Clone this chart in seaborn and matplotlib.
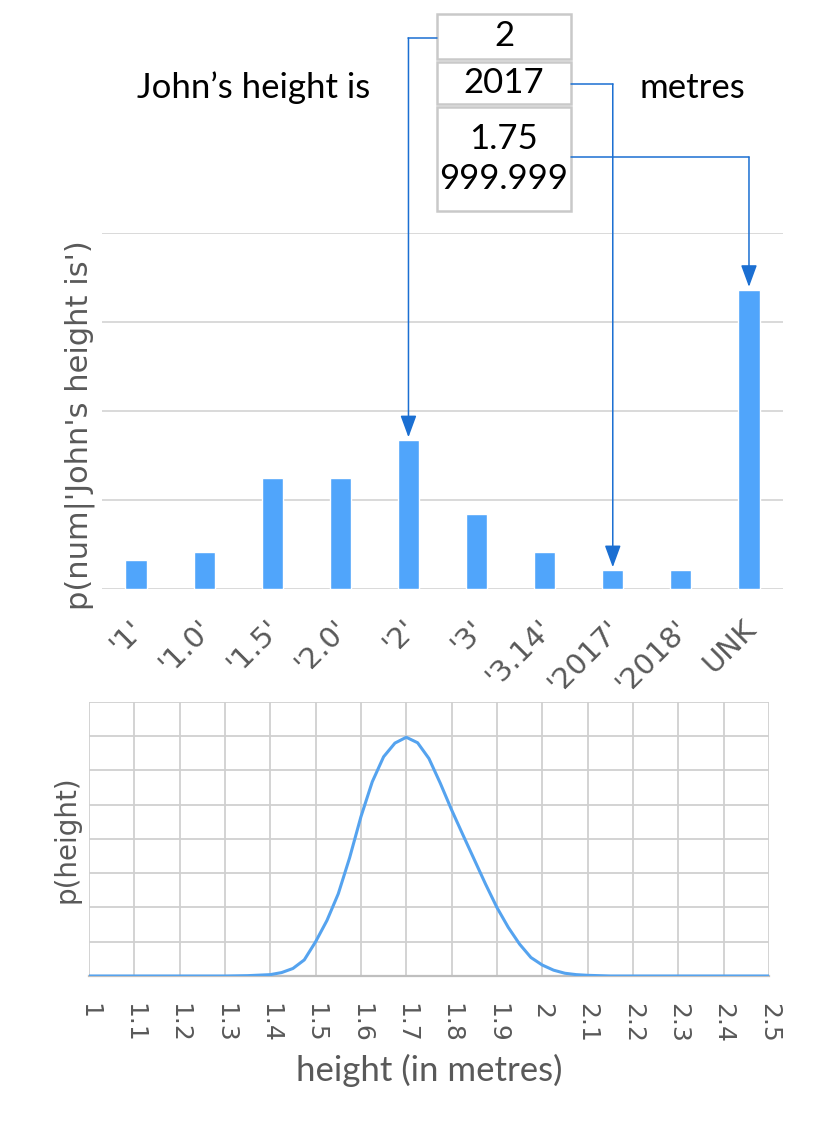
import numpy as np
import pandas as pd
import matplotlib.pyplot as plt
import seaborn as sns
from matplotlib.patches import Rectangle, FancyArrowPatch
from matplotlib.lines import Line2D
from matplotlib.transforms import ScaledTranslation

# ==========================================
# Data
# ==========================================

tokens = ["'1'", "'1.0'", "'1.5'", "'2.0'", "'2'", "'3'", "'3.14'", "'2017'", "'2018'", "UNK"]
probs = [0.33, 0.42, 1.25, 1.25, 1.67, 0.84, 0.42, 0.21, 0.21, 3.36]

heights = [1.0, 1.1, 1.2, 1.3, 1.35, 1.4, 1.425, 1.45, 1.475, 1.5, 1.525, 1.55,
           1.575, 1.6, 1.625, 1.65, 1.675, 1.7, 1.725, 1.75, 1.775, 1.8, 1.825,
           1.85, 1.875, 1.9, 1.925, 1.95, 1.975, 2.0, 2.025, 2.05, 2.075, 2.1,
           2.15, 2.2, 2.3, 2.4, 2.5]
density = [0.0, 0.0, 0.0, 0.0, 0.01, 0.04, 0.1, 0.22, 0.47, 1.0, 1.62, 2.4,
           3.45, 4.65, 5.67, 6.4, 6.8, 6.97, 6.81, 6.35, 5.63, 4.85, 4.12,
           3.4, 2.68, 2.0, 1.42, 0.93, 0.54, 0.32, 0.17, 0.08, 0.04, 0.02,
           0.0, 0.0, 0.0, 0.0, 0.0]

height_ticks = [1.0, 1.1, 1.2, 1.3, 1.4, 1.5, 1.6, 1.7, 1.8, 1.9, 2.0, 2.1, 2.2, 2.3, 2.4, 2.5]
height_labels = ["1", "1.1", "1.2", "1.3", "1.4", "1.5", "1.6", "1.7", "1.8", "1.9",
                 "2", "2.1", "2.2", "2.3", "2.4", "2.5"]

sentence_left = "John\u2019s height is"
sentence_right = "metres"
box_words = ["2", "2017", "1.75\n999.999"]
box_targets = ["'2'", "'2017'", "UNK"]

# ==========================================
# Style
# ==========================================

BAR = "#50a5fb"
LINE = "#55a3ef"
ARROW = "#1b6fd2"
GREY = "#595959"
GRID = "#d9d9d9"

sns.set_style("white")
plt.rcParams["font.family"] = ["DejaVu Sans"]

W, H = 816, 1137
fig = plt.figure(figsize=(W / 100, H / 100), dpi=100)

# ==========================================
# Top: bar chart
# ==========================================

ax1 = fig.add_axes([0.125, 0.4820, 0.8346, 0.3131])

sns.barplot(x=tokens, y=probs, color=BAR, saturation=1, width=0.31, ax=ax1)

ax1.set_xlim(-0.5, 9.5)
ax1.set_ylim(0, 4)
ax1.set_yticks([0, 1, 2, 3, 4])
ax1.set_yticklabels([])
ax1.yaxis.grid(True, color=GRID, lw=1.4)
ax1.set_axisbelow(True)
for s in ax1.spines.values():
    s.set_visible(False)
ax1.tick_params(left=False, bottom=False, axis="x", pad=15)
ax1.set_xticks(range(len(tokens)))
ax1.set_xticklabels(tokens, rotation=45, ha="right", rotation_mode="anchor",
                    color=GREY, fontsize=21)
shift = ScaledTranslation(-5 / 72, 0, fig.dpi_scale_trans)
for lbl in ax1.get_xticklabels():
    lbl.set_transform(lbl.get_transform() + shift)
ax1.set_xlabel("")
ax1.set_ylabel("p(num|'John's height is')", color=GREY, fontsize=22)
ax1.yaxis.set_label_coords(-0.01, 0.46)

# ==========================================
# Bottom: height density
# ==========================================

ax2 = fig.add_axes([0.109, 0.1416, 0.8333, 0.2410])

sns.lineplot(x=heights, y=density, color=LINE, lw=2.2, ax=ax2, zorder=4)

ax2.set_xlim(1.0, 2.5)
ax2.set_ylim(0, 8)
ax2.set_xticks(height_ticks)
ax2.set_xticklabels(height_labels, rotation=-90, color=GREY, fontsize=18)
ax2.set_yticks(range(9))
ax2.set_yticklabels([])
ax2.grid(True, color="#d0d0d0", lw=1.3)
for name, s in ax2.spines.items():
    s.set_visible(name == "bottom")
ax2.spines["bottom"].set_color("#bfbfbf")
ax2.spines["bottom"].set_linewidth(1.6)
ax2.tick_params(left=False, bottom=False, axis="x", pad=16)
ax2.set_ylabel("p(height)", color=GREY, fontsize=20)
ax2.yaxis.set_label_coords(-0.012, 0.5)
ax2.set_xlabel("height (in metres)", color=GREY, fontsize=25, family="Lato", labelpad=8)

# ==========================================
# Sentence and word box
# ==========================================

def fx(px):
    return px / W

def fy(py):
    return 1 - py / H

fig.text(fx(254), fy(88), sentence_left, ha="center", va="center",
         fontsize=25, family="Lato", color="black")
fig.text(fx(692), fy(88), sentence_right, ha="center", va="center",
         fontsize=25, family="Lato", color="black")

cells = [(14, 59), (62, 104), (107, 211)]
for (top, bottom), word in zip(cells, box_words):
    fig.add_artist(Rectangle((fx(437), fy(bottom)), fx(571) - fx(437), fy(top) - fy(bottom),
                             transform=fig.transFigure, facecolor="white",
                             edgecolor="#c9c9c9", lw=1.8))
    fig.text(fx(504), (fy(top) + fy(bottom)) / 2, word, ha="center", va="center",
             fontsize=25, family="Lato", color="black", linespacing=1.3)

# arrows from box cells down to the bars
to_fig = fig.transFigure.inverted()
starts = [(437, 38), (571, 84), (571, 157)]
for (sx, sy), target in zip(starts, box_targets):
    i = tokens.index(target)
    bx, by = to_fig.transform(ax1.transData.transform((i, probs[i])))
    fig.add_artist(Line2D([fx(sx), bx], [fy(sy), fy(sy)], transform=fig.transFigure,
                          color=ARROW, lw=1.1))
    fig.add_artist(FancyArrowPatch((bx, fy(sy)), (bx, by + 3 / H), transform=fig.transFigure,
                                   arrowstyle="-|>,head_length=0.9,head_width=0.33",
                                   mutation_scale=15, color=ARROW, lw=1.1,
                                   shrinkA=0, shrinkB=0))

plt.savefig("out.png", dpi=100)
